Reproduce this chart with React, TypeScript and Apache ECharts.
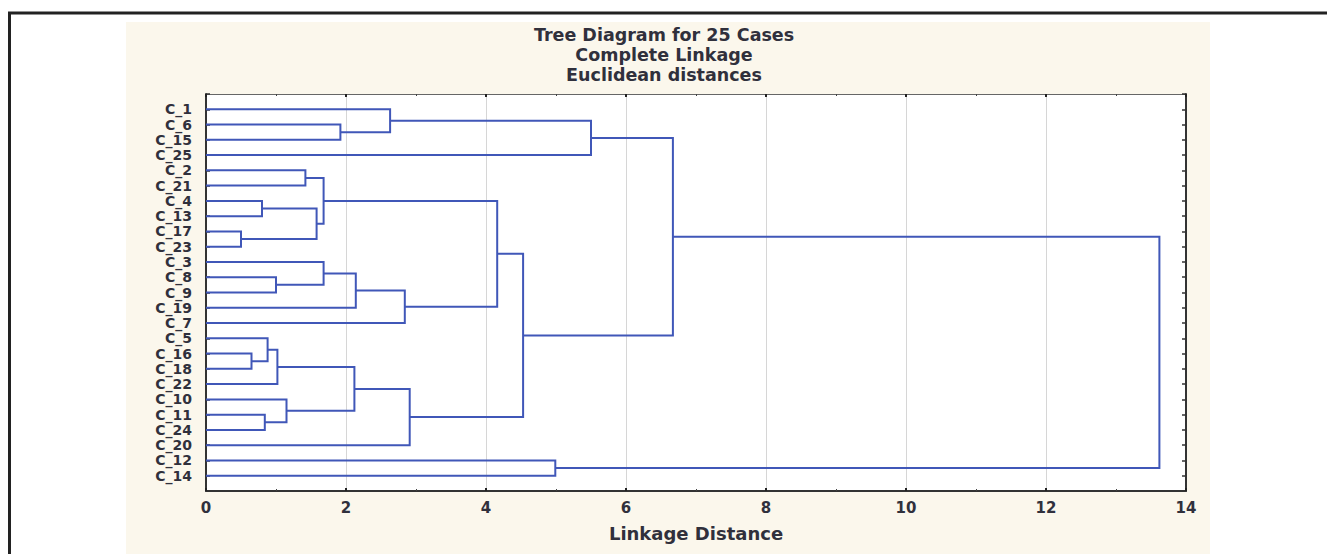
import React, { useEffect, useRef } from "react";
import * as echarts from "echarts";

// Leaf order top to bottom
const leaves = [
  "C_1", "C_6", "C_15", "C_25", "C_2", "C_21", "C_4", "C_13", "C_17", "C_23",
  "C_3", "C_8", "C_9", "C_19", "C_7", "C_5", "C_16", "C_18", "C_22", "C_10",
  "C_11", "C_24", "C_20", "C_12", "C_14",
];

// Merges: G1..G24 in order
const mergeLeft = [
  "C_6", "C_1", "G2", "C_2", "C_4", "C_17", "G5", "G4", "C_8", "C_3", "G10", "G11",
  "G8", "C_16", "C_5", "G15", "C_11", "C_10", "G16", "G19", "G13", "G3", "C_12", "G22",
];
const mergeRight = [
  "C_15", "G1", "C_25", "C_21", "C_13", "C_23", "G6", "G7", "C_9", "G9", "C_19", "C_7",
  "G12", "C_18", "G14", "C_22", "C_24", "G17", "G18", "C_20", "G20", "G21", "C_14", "G23",
];
const mergeHeight = [
  1.92, 2.63, 5.5, 1.42, 0.8, 0.5, 1.58, 1.68, 1.0, 1.68, 2.14, 2.84,
  4.16, 0.65, 0.88, 1.02, 0.84, 1.15, 2.12, 2.91, 4.53, 6.67, 4.99, 13.62,
];

const titleLines = ["Tree Diagram for 25 Cases", "Complete Linkage", "Euclidean distances"];
const xAxisName = "Linkage Distance";

const FONT = "DejaVu Sans";
const TEXT = "#30303c";
const LINE = "#4057b8";

function buildLinks() {
  const pos: Record<string, number> = {};
  const height: Record<string, number> = {};
  leaves.forEach((l, i) => {
    pos[l] = i + 1;
    height[l] = 0;
  });
  const data: number[][] = [];
  mergeHeight.forEach((h, i) => {
    const a = mergeLeft[i];
    const b = mergeRight[i];
    data.push([height[a], pos[a], h, pos[b], height[b]]);
    const g = "G" + (i + 1);
    pos[g] = (pos[a] + pos[b]) / 2;
    height[g] = h;
  });
  return data;
}

export default function App() {
  const ref = useRef<HTMLDivElement>(null);
  useEffect(() => {
    if (!ref.current) return;
    const chart = echarts.init(ref.current, undefined, { renderer: "svg" });
    const links = buildLinks();
    const xCommon = {
      type: "value",
      min: 0,
      max: 14,
      interval: 2,
      axisTick: { show: true, inside: true, length: 3, lineStyle: { color: "#222", width: 2 } },
      minorTick: { show: true, splitNumber: 2, length: 2, lineStyle: { color: "#444", width: 1 } },
    };
    const yCommon = {
      type: "value",
      min: 0,
      max: 26,
      interval: 1,
      inverse: true,
      splitLine: { show: false },
      axisTick: { show: true, inside: true, length: 4, lineStyle: { color: "#333", width: 1.5 } },
    };
    chart.setOption({
      animation: false,
      backgroundColor: "#ffffff",
      graphic: [
        {
          type: "rect",
          z: -2,
          shape: { x: 9.5, y: 13, width: 1340, height: 600 },
          style: { fill: "#ffffff", stroke: "#222222", lineWidth: 3 },
        },
        {
          type: "rect",
          z: -1,
          shape: { x: 126, y: 22, width: 1084, height: 540 },
          style: { fill: "#fbf7ec" },
        },
      ],
      title: {
        text: titleLines.join("\n"),
        left: 664,
        textAlign: "center",
        top: 25,
        padding: 0,
        textStyle: {
          fontFamily: FONT,
          fontWeight: "bold",
          fontSize: 17.5,
          lineHeight: 20,
          color: TEXT,
        },
      },
      grid: {
        left: 206,
        top: 94,
        right: 141,
        bottom: 63,
        show: true,
        backgroundColor: "#ffffff",
        borderWidth: 0,
      },
      xAxis: [
        {
          ...xCommon,
          position: "bottom",
          name: xAxisName,
          nameLocation: "middle",
          nameGap: 33,
          nameTextStyle: { fontFamily: FONT, fontWeight: "bold", fontSize: 18, color: TEXT },
          axisLine: { show: true, onZero: false, lineStyle: { color: "#333", width: 2 } },
          axisLabel: { margin: 9, fontFamily: FONT, fontWeight: "bold", fontSize: 15, color: TEXT },
          splitLine: { show: true, lineStyle: { color: "#d6d6d6", width: 1 } },
        },
        {
          ...xCommon,
          position: "top",
          axisLine: { show: true, onZero: false, lineStyle: { color: "#666", width: 1 } },
          axisLabel: { show: false },
          splitLine: { show: false },
        },
      ],
      yAxis: [
        {
          ...yCommon,
          position: "left",
          axisLine: { show: true, onZero: false, lineStyle: { color: "#333", width: 2 } },
          axisLabel: {
            margin: 14,
            fontFamily: FONT,
            fontWeight: "bold",
            fontSize: 14,
            lineHeight: 14,
            color: TEXT,
            formatter: (v: number) => (v >= 1 && v <= leaves.length ? leaves[v - 1] : ""),
          },
        },
        {
          ...yCommon,
          position: "right",
          axisLine: { show: true, onZero: false, lineStyle: { color: "#333", width: 2 } },
          axisLabel: { show: false },
        },
      ],
      series: [
        {
          type: "custom",
          xAxisIndex: 0,
          yAxisIndex: 0,
          encode: { x: [0, 2, 4], y: [1, 3] },
          data: links,
          renderItem: (_params: any, api: any) => {
            const hA = api.value(0);
            const yA = api.value(1);
            const h = api.value(2);
            const yB = api.value(3);
            const hB = api.value(4);
            const pts = [
              api.coord([hA, yA]),
              api.coord([h, yA]),
              api.coord([h, yB]),
              api.coord([hB, yB]),
            ];
            return {
              type: "polyline",
              shape: { points: pts },
              style: { stroke: LINE, lineWidth: 2, fill: "none" },
            };
          },
        },
      ],
    });
    return () => chart.dispose();
  }, []);
  return (
    <div
      ref={ref}
      style={{ position: "fixed", left: 0, top: 0, width: 1327, height: 554 }}
    />
  );
}
